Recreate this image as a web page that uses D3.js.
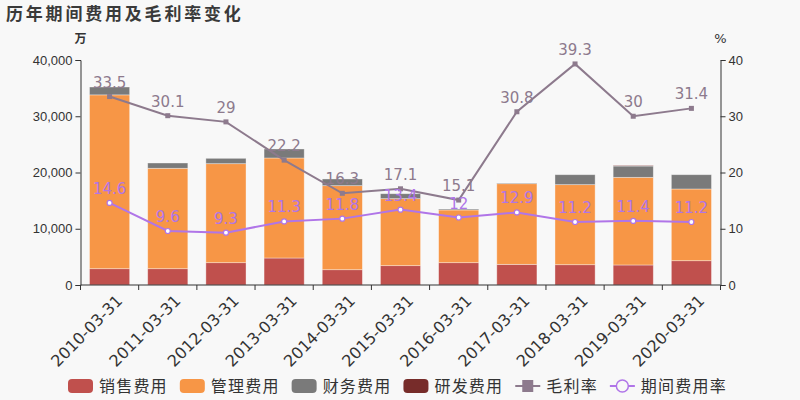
<!DOCTYPE html>
<html>
<head>
<meta charset="utf-8">
<script src="https://cdn.jsdelivr.net/npm/d3@7"></script>
<style>
  body { margin:0; background:#f8f8f8; }
  svg { display:block; font-family:"DejaVu Sans","Noto Sans CJK SC",sans-serif; }
</style>
</head>
<body>
<svg id="chart" width="800" height="400"></svg>
<script>
const dates=["2010-03-31","2011-03-31","2012-03-31","2013-03-31","2014-03-31","2015-03-31",
    "2016-03-31","2017-03-31","2018-03-31","2019-03-31","2020-03-31"];
// 单位: 万
const sales=[2900,2900,3970,4800,2720,3440,3970,3670,3610,3560,4320];
const manage=[30900,17850,17600,17780,14940,11910,9370,14340,14230,15580,12750];
const finance=[1400,940,950,1600,1190,880,170,120,1770,2010,2540];
const research=[0,0,0,0,0,0,0,0,0,100,0];
// 单位: %
const grossMargin=[33.5,30.1,29,22.2,16.3,17.1,15.1,30.8,39.3,30,31.4];
const periodRate=[14.6,9.6,9.3,11.3,11.8,13.4,12,12.9,11.2,11.4,11.2];
const leftTicks=[0,10000,20000,30000,40000];
const rightTicks=[0,10,20,30,40];

const seriesNames=["销售费用","管理费用","财务费用","研发费用"];
const seriesColors=["#c0504d","#f79646","#7a7a7a","#772c2a"];
const gmColor="#8d7a8d";
const prColor="#b075e8";

const svg=d3.select("#chart");
const plotLeft=80.5, plotRight=720.5, plotTop=60, plotBottom=285;

const x=d3.scaleBand().domain(dates).range([plotLeft,plotRight]).paddingInner(0.31).paddingOuter(0.155);
const xLine=d3.scaleBand().domain(dates).range([plotLeft,plotRight]);
const yL=d3.scaleLinear().domain([0,40000]).range([plotBottom,plotTop]);
const yR=d3.scaleLinear().domain([0,40]).range([plotBottom,plotTop]);

// 标题
svg.append("text").attr("x",6).attr("y",20)
    .attr("font-size",17).attr("font-weight","bold").attr("letter-spacing",2.8)
    .attr("fill","#3a3a3a").attr("font-family","Noto Sans CJK SC")
    .text("历年期间费用及毛利率变化");

svg.append("text").attr("x",plotLeft).attr("y",43).attr("text-anchor","middle")
    .attr("font-size",12).attr("font-weight","bold").attr("fill","#333")
    .attr("font-family","Noto Sans CJK SC").text("万");
svg.append("text").attr("x",plotRight).attr("y",43).attr("text-anchor","middle")
    .attr("font-size",13).attr("fill","#333").text("%");

// 堆叠柱
const rows=dates.map((d,i)=>({date:d, s0:sales[i], s1:manage[i], s2:finance[i], s3:research[i]}));
const stacked=d3.stack().keys(["s0","s1","s2","s3"])(rows);
stacked.forEach((layer,k)=>{
    svg.append("g").attr("fill",seriesColors[k])
        .selectAll("rect").data(layer).join("rect")
        .attr("x",d=>x(d.data.date)).attr("width",x.bandwidth())
        .attr("y",d=>yL(d[1])).attr("height",d=>Math.max(0,yL(d[0])-yL(d[1])))
        .attr("stroke","rgba(255,255,255,0.45)").attr("stroke-width",0.8);
});

// 坐标轴
const axisL=svg.append("g").attr("transform",`translate(${plotLeft},0)`)
    .call(d3.axisLeft(yL).tickValues(leftTicks).tickFormat(d3.format(",")).tickSizeOuter(0).tickSize(5));
const axisR=svg.append("g").attr("transform",`translate(${plotRight},0)`)
    .call(d3.axisRight(yR).tickValues(rightTicks).tickSizeOuter(0).tickSize(5));
[axisL,axisR].forEach(a=>{
    a.selectAll("text").attr("font-size",13).attr("fill","#333");
    a.selectAll("line,path").attr("stroke","#333");
});

const axisB=svg.append("g").attr("transform",`translate(0,${plotBottom})`);
axisB.append("line").attr("x1",plotLeft).attr("x2",plotRight).attr("y1",0).attr("y2",0).attr("stroke","#333");
axisB.selectAll("line.tk").data(dates).join("line").attr("class","tk")
    .attr("x1",d=>xLine(d)).attr("x2",d=>xLine(d)).attr("y1",0).attr("y2",5).attr("stroke","#333");
axisB.append("line").attr("x1",plotRight).attr("x2",plotRight).attr("y1",0).attr("y2",5).attr("stroke","#333");
axisB.selectAll("text").data(dates).join("text")
    .attr("transform",d=>`translate(${xLine(d)+xLine.bandwidth()/2+6},9) rotate(-45)`)
    .attr("text-anchor","end").attr("dy","0.7em")
    .attr("font-size",16).attr("fill","#333").text(d=>d);

// 折线
const cx=d=>xLine(d)+xLine.bandwidth()/2;
function drawLine(values,color,scale,marker){
    const pts=values.map((v,i)=>[cx(dates[i]),scale(v),v]);
    svg.append("path").datum(pts).attr("fill","none").attr("stroke",color).attr("stroke-width",2)
        .attr("d",d3.line());
    const g=svg.append("g");
    if (marker==="square") {
        g.selectAll("rect").data(pts).join("rect")
            .attr("x",d=>d[0]-2.5).attr("y",d=>d[1]-2.5).attr("width",5).attr("height",5).attr("fill",color);
    } else {
        g.selectAll("circle").data(pts).join("circle")
            .attr("cx",d=>d[0]).attr("cy",d=>d[1]).attr("r",2.5).attr("fill","#fff")
            .attr("stroke",color).attr("stroke-width",1.2);
    }
    g.selectAll("text").data(pts).join("text")
        .attr("x",d=>d[0]).attr("y",d=>d[1]-9).attr("text-anchor","middle")
        .attr("font-size",15).attr("fill",color).text(d=>d[2]);
}
drawLine(grossMargin,gmColor,yR,"square");
drawLine(periodRate,prColor,yR,"circle");

// 图例
const legendG=svg.append("g").attr("font-family","Noto Sans CJK SC").attr("font-size",16);
let lx=68;
const ly=386;
const legendItems=seriesNames.map((n,i)=>({name:n,color:seriesColors[i],type:"rect"}))
    .concat([{name:"毛利率",color:gmColor,type:"square"},{name:"期间费用率",color:prColor,type:"circle"}]);
legendItems.forEach(item=>{
    if (item.type==="rect") {
        legendG.append("rect").attr("x",lx).attr("y",ly-7).attr("width",25).attr("height",14)
            .attr("rx",4).attr("fill",item.color);
    } else {
        legendG.append("line").attr("x1",lx).attr("x2",lx+25).attr("y1",ly).attr("y2",ly)
            .attr("stroke",item.color).attr("stroke-width",2);
        if (item.type==="square") {
            legendG.append("rect").attr("x",lx+7).attr("y",ly-6).attr("width",11).attr("height",12).attr("fill",item.color);
        } else {
            legendG.append("circle").attr("cx",lx+12.5).attr("cy",ly).attr("r",6)
                .attr("fill","#f8f8f8").attr("stroke",item.color).attr("stroke-width",1.5);
        }
    }
    const t=legendG.append("text").attr("x",lx+31).attr("y",ly).attr("dy","0.36em")
        .attr("fill","#333").attr("letter-spacing",1.2).text(item.name);
    lx+=31+t.node().getComputedTextLength()+12;
});
</script>
</body>
</html>
